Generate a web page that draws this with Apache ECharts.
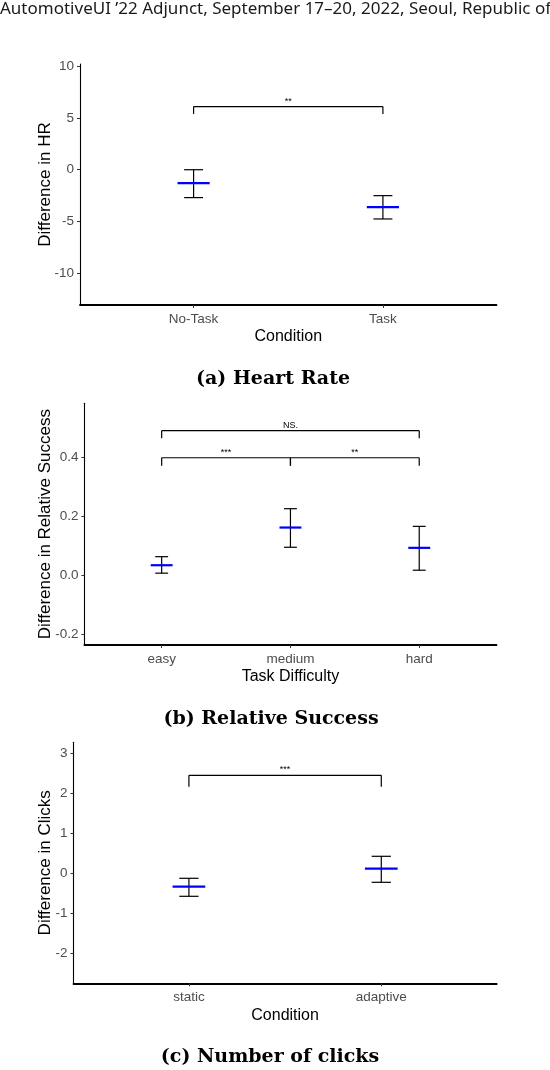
<!DOCTYPE html>
<html>
<head>
<meta charset="utf-8">
<script src="https://cdn.jsdelivr.net/npm/echarts@6/dist/echarts.min.js"></script>
<style>
  html, body { margin: 0; padding: 0; background: #fff; }
  #main { width: 550px; height: 1070px; }
</style>
</head>
<body>
<div id="main"></div>
<script>
// (a) heart rate
var hrCats = ['No-Task', 'Task'];
var hrMean = [-1.29, -3.6];
var hrLow = [-2.69, -4.75];
var hrHigh = [0.0, -2.5];
var hrTicks = [-10, -5, 0, 5, 10];
// bracket: [from, to, y, yEnd]
var hrBrackets = [[1, 2, 6.09, 5.38]];
var hrStars = ['**'];

// (b) relative success
var rsCats = ['easy', 'medium', 'hard'];
var rsMean = [0.034, 0.162, 0.093];
var rsLow = [0.007, 0.095, 0.017];
var rsHigh = [0.063, 0.226, 0.166];
var rsTicks = [-0.2, 0.0, 0.2, 0.4];
var rsBrackets = [[1, 2, 0.399, 0.372], [2, 3, 0.399, 0.372], [1, 3, 0.491, 0.465]];
var rsStars = ['***', '**', 'NS.'];

// (c) clicks
var clCats = ['static', 'adaptive'];
var clMean = [-0.335, 0.115];
var clLow = [-0.575, -0.225];
var clHigh = [-0.125, 0.425];
var clTicks = [-2, -1, 0, 1, 2, 3];
var clBrackets = [[1, 2, 2.45, 2.165]];
var clStars = ['***'];

var chart = echarts.init(document.getElementById('main'));
var FONT = 'Liberation Sans';

function rows(mean, low, high) {
	return mean.map(function (m, i) { return [i + 1, m, low[i], high[i]]; });
}

// error bar + blue mean line, widths in data units like ggplot
function errRender(params, api) {
	var x = api.value(0);
	var pm = api.coord([x, api.value(1)]);
	var pl = api.coord([x, api.value(2)]);
	var ph = api.coord([x, api.value(3)]);
	var cap = api.size([0.1, 0])[0] / 2;
	var bar = api.size([0.17, 0])[0] / 2;
	var blk = { stroke: '#000', lineWidth: 1.2 };
	return {
		type: 'group',
		children: [
			{ type: 'line', shape: { x1: pm[0], y1: pl[1], x2: pm[0], y2: ph[1] }, style: blk },
			{ type: 'line', shape: { x1: pm[0] - cap, y1: pl[1], x2: pm[0] + cap, y2: pl[1] }, style: blk },
			{ type: 'line', shape: { x1: pm[0] - cap, y1: ph[1], x2: pm[0] + cap, y2: ph[1] }, style: blk },
			{ type: 'line', shape: { x1: pm[0] - bar, y1: pm[1], x2: pm[0] + bar, y2: pm[1] }, style: { stroke: '#0000ff', lineWidth: 2.2 } }
		]
	};
}

function bracketRender(labels) {
	return function (params, api) {
		var a = api.coord([api.value(0), api.value(2)]);
		var b = api.coord([api.value(1), api.value(2)]);
		var e = api.coord([api.value(0), api.value(3)]);
		var st = { stroke: '#000', lineWidth: 1.2 };
		return {
			type: 'group',
			children: [
				{ type: 'line', shape: { x1: a[0], y1: a[1], x2: b[0], y2: b[1] }, style: st },
				{ type: 'line', shape: { x1: a[0], y1: a[1], x2: a[0], y2: e[1] }, style: st },
				{ type: 'line', shape: { x1: b[0], y1: b[1], x2: b[0], y2: e[1] }, style: st },
				{ type: 'text', x: (a[0] + b[0]) / 2, y: a[1] - 1, style: {
					text: labels[params.dataIndex], fill: '#000', font: '9px ' + FONT,
					textAlign: 'center', textVerticalAlign: 'bottom' } }
			]
		};
	};
}

function xAxisFor(idx, cats, title) {
	var ticks = cats.map(function (c, i) { return i + 1; });
	return {
		gridIndex: idx, type: 'value', min: 0.4, max: cats.length + 0.6,
		splitLine: { show: false },
		axisLine: { show: true, onZero: false, lineStyle: { color: '#000', width: 1.8 } },
		axisTick: { show: true, customValues: ticks, length: 3, lineStyle: { color: '#333' } },
		axisLabel: { customValues: ticks, margin: 7, color: '#4d4d4d', fontSize: 13.5, fontFamily: FONT,
			formatter: function (v) { return cats[Math.round(v) - 1] || ''; } },
		name: title, nameLocation: 'middle', nameGap: 24, nameMoveOverlap: false,
		nameTextStyle: { color: '#000', fontSize: 16, fontFamily: FONT }
	};
}

function yAxisFor(idx, min, max, ticks, title, gap, dec) {
	return {
		gridIndex: idx, type: 'value', min: min, max: max,
		splitLine: { show: false },
		axisLine: { show: true, onZero: false, lineStyle: { color: '#000', width: 1.1 } },
		axisTick: { show: true, customValues: ticks, length: 3, lineStyle: { color: '#333' } },
		axisLabel: { customValues: ticks, margin: 6, color: '#4d4d4d', fontSize: 13.5, fontFamily: FONT,
			formatter: function (v) { return v.toFixed(dec); } },
		name: title, nameLocation: 'middle', nameGap: gap, nameMoveOverlap: false,
		nameTextStyle: { color: '#000', fontSize: 17, fontFamily: FONT }
	};
}

var option = {
	animation: false,
	backgroundColor: '#fff',
	grid: [
		{ left: 80, right: 53.5, top: 64, height: 241 },
		{ left: 84.4, right: 53.5, top: 403.3, height: 241.7 },
		{ left: 73.5, right: 53.3, top: 742.3, height: 241 }
	],
	xAxis: [
		xAxisFor(0, hrCats, 'Condition'),
		xAxisFor(1, rsCats, 'Task Difficulty'),
		xAxisFor(2, clCats, 'Condition')
	],
	yAxis: [
		yAxisFor(0, -13.05, 10.2, hrTicks, 'Difference in HR', 26, 0),
		yAxisFor(1, -0.237, 0.584, rsTicks, 'Difference in Relative Success', 31, 1),
		yAxisFor(2, -2.75, 3.275, clTicks, 'Difference in Clicks', 19.5, 0)
	],
	graphic: [
		{ type: 'text', left: 0, top: 1, style: {
			text: 'AutomotiveUI \u201922 Adjunct, September 17\u201320, 2022, Seoul, Republic of',
			font: '17px "Noto Sans"', fill: '#1a1a1a' } },
		{ type: 'text', x: 273, y: 379, style: { text: '(a) Heart Rate', font: 'bold 19px "DejaVu Serif"',
			fill: '#000', textAlign: 'center', textVerticalAlign: 'middle' } },
		{ type: 'text', x: 271, y: 719, style: { text: '(b) Relative Success', font: 'bold 19px "DejaVu Serif"',
			fill: '#000', textAlign: 'center', textVerticalAlign: 'middle' } },
		{ type: 'text', x: 270, y: 1057, style: { text: '(c) Number of clicks', font: 'bold 19px "DejaVu Serif"',
			fill: '#000', textAlign: 'center', textVerticalAlign: 'middle' } }
	],
	series: [
		{ type: 'custom', xAxisIndex: 0, yAxisIndex: 0, renderItem: errRender,
			encode: { x: 0, y: [1, 2, 3] }, data: rows(hrMean, hrLow, hrHigh) },
		{ type: 'custom', xAxisIndex: 0, yAxisIndex: 0, renderItem: bracketRender(hrStars),
			encode: { x: [0, 1], y: [2, 3] }, data: hrBrackets },
		{ type: 'custom', xAxisIndex: 1, yAxisIndex: 1, renderItem: errRender,
			encode: { x: 0, y: [1, 2, 3] }, data: rows(rsMean, rsLow, rsHigh) },
		{ type: 'custom', xAxisIndex: 1, yAxisIndex: 1, renderItem: bracketRender(rsStars),
			encode: { x: [0, 1], y: [2, 3] }, data: rsBrackets },
		{ type: 'custom', xAxisIndex: 2, yAxisIndex: 2, renderItem: errRender,
			encode: { x: 0, y: [1, 2, 3] }, data: rows(clMean, clLow, clHigh) },
		{ type: 'custom', xAxisIndex: 2, yAxisIndex: 2, renderItem: bracketRender(clStars),
			encode: { x: [0, 1], y: [2, 3] }, data: clBrackets }
	]
};
chart.setOption(option);
</script>
</body>
</html>
